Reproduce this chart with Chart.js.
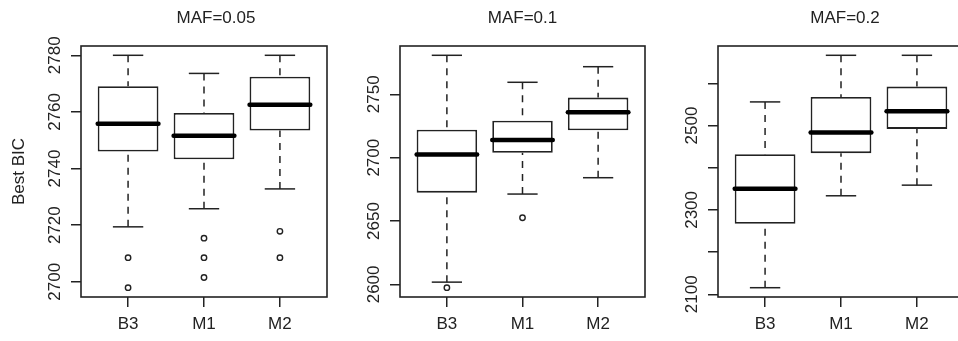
<!DOCTYPE html>
<html>
<head>
<meta charset="utf-8">
<script src="https://cdn.jsdelivr.net/npm/chart.js@4.4.0/dist/chart.umd.min.js"></script>
<style>
    body { margin: 0; width: 958px; height: 341px; overflow: hidden; background: #fff; position: relative; }
    canvas { position: absolute; top: 0; }
</style>
</head>
<body>
<canvas id="c05" width="432" height="341" style="left:0px"></canvas>
<canvas id="c1" width="385" height="341" style="left:330px"></canvas>
<canvas id="c2" width="390" height="341" style="left:650px"></canvas>
<script>
// Dados
const categories = ['B3', 'M1', 'M2'];
const panelTitles = ['MAF=0.05', 'MAF=0.1', 'MAF=0.2'];
const yTitle = 'Best BIC';

// MAF=0.05
const whiskerLow05 = [2719.4, 2725.8, 2732.8];
const q1_05 = [2746.0, 2743.3, 2753.4];
const median05 = [2755.8, 2751.6, 2762.5];
const q3_05 = [2769.1, 2759.6, 2772.4];
const whiskerHigh05 = [2780.0, 2773.6, 2780.0];
const outliers05 = [[2708.5, 2697.9], [2715.4, 2708.5, 2701.5], [2717.8, 2708.5]];
const ticks05 = [2700, 2720, 2740, 2760, 2780];
const tickLabels05 = ['2700', '2720', '2740', '2760', '2780'];

// MAF=0.1
const whiskerLow1 = [2601.8, 2671.3, 2684.2];
const q1_1 = [2672.4, 2703.9, 2721.6];
const median1 = [2702.6, 2713.9, 2735.8];
const q3_1 = [2722.1, 2729.2, 2747.4];
const whiskerHigh1 = [2780.8, 2759.5, 2771.8];
const outliers1 = [[2597.4], [2652.6], []];
const ticks1 = [2600, 2650, 2700, 2750];
const tickLabels1 = ['2600', '2650', '2700', '2750'];

// MAF=0.2
const whiskerLow2 = [2115.6, 2333.5, 2358.7];
const q1_2 = [2267.0, 2434.5, 2492.0];
const median2 = [2350.0, 2483.4, 2534.0];
const q3_2 = [2432.0, 2567.9, 2592.3];
const whiskerHigh2 = [2556.0, 2666.5, 2666.5];
const outliers2 = [[], [], []];
const ticks2 = [2100, 2200, 2300, 2400, 2500, 2600];
const tickLabels2 = ['2100', '', '2300', '', '2500', ''];

const ink = '#222';
Chart.defaults.font.family = '"Liberation Sans", Arial, Helvetica, sans-serif';
Chart.defaults.font.size = 17;
Chart.defaults.color = ink;

// Painéis: dados + posição do canvas
const panels = [
    { canvas: 'c05', title: panelTitles[0], yTitle: true, yWidth: 81, padRight: 105,
      low: whiskerLow05, q1: q1_05, med: median05, q3: q3_05, high: whiskerHigh05,
      out: outliers05, ticks: ticks05, labels: tickLabels05 },
    { canvas: 'c1', title: panelTitles[1], yTitle: false, yWidth: 70, padRight: 70,
      low: whiskerLow1, q1: q1_1, med: median1, q3: q3_1, high: whiskerHigh1,
      out: outliers1, ticks: ticks1, labels: tickLabels1 },
    { canvas: 'c2', title: panelTitles[2], yTitle: false, yWidth: 68, padRight: 76,
      low: whiskerLow2, q1: q1_2, med: median2, q3: q3_2, high: whiskerHigh2,
      out: outliers2, ticks: ticks2, labels: tickLabels2 }
];

// Bigodes, medianas e moldura (estilo boxplot do R)
function boxPlugin(p) {
    return {
        id: 'boxExtras',
        afterDatasetsDraw(chart) {
            const { ctx, chartArea: a, scales: { x, y } } = chart;
            const seg = (x1, y1, x2, y2) => { ctx.beginPath(); ctx.moveTo(x1, y1); ctx.lineTo(x2, y2); ctx.stroke(); };
            ctx.save();
            ctx.strokeStyle = ink;
            ctx.lineCap = 'butt';
            p.med.forEach((m, i) => {
                const c = i + 1;
                const cx = x.getPixelForValue(c);
                // bigodes tracejados, do extremo até a caixa
                ctx.lineWidth = 1.5;
                ctx.setLineDash([7, 6]);
                seg(cx, y.getPixelForValue(p.low[i]), cx, y.getPixelForValue(p.q1[i]));
                seg(cx, y.getPixelForValue(p.high[i]), cx, y.getPixelForValue(p.q3[i]));
                ctx.setLineDash([]);
                // hastes
                const l = x.getPixelForValue(c - 0.2), r = x.getPixelForValue(c + 0.2);
                seg(l, y.getPixelForValue(p.low[i]), r, y.getPixelForValue(p.low[i]));
                seg(l, y.getPixelForValue(p.high[i]), r, y.getPixelForValue(p.high[i]));
                // mediana
                ctx.lineWidth = 4.5;
                ctx.strokeStyle = '#000';
                ctx.lineCap = 'round';
                seg(x.getPixelForValue(c - 0.4), y.getPixelForValue(m), x.getPixelForValue(c + 0.4), y.getPixelForValue(m));
                ctx.lineCap = 'butt';
                ctx.strokeStyle = ink;
            });
            ctx.lineWidth = 1.6;
            ctx.strokeRect(a.left, a.top, a.right - a.left, a.bottom - a.top);
            ctx.restore();
        }
    };
}

function drawPanel(p) {
    // limites como no R: faixa dos dados +/- 4%
    const all = p.low.concat(p.high, ...p.out);
    const lo = Math.min(...all), hi = Math.max(...all);
    const ext = (hi - lo) * 0.04;
    const n = categories.length;

    const outlierPoints = [];
    p.out.forEach((vals, i) => vals.forEach(v => outlierPoints.push({ x: i + 1, y: v })));

    new Chart(document.getElementById(p.canvas), {
        type: 'bar',
        data: {
            datasets: [{
                data: categories.map((c, i) => ({ x: i + 1, y: [p.q1[i], p.q3[i]] })),
                backgroundColor: '#fff',
                borderColor: ink,
                borderWidth: 1.8,
                borderSkipped: false,
                categoryPercentage: 1,
                barPercentage: 0.8
            }, {
                type: 'scatter',
                data: outlierPoints,
                pointRadius: 2.7,
                pointBorderWidth: 1.4,
                pointBackgroundColor: '#fff',
                pointBorderColor: ink
            }]
        },
        options: {
            responsive: false,
            animation: false,
            events: [],
            layout: { padding: 0 },
            plugins: {
                legend: { display: false },
                tooltip: { enabled: false },
                title: {
                    display: true,
                    text: p.title,
                    color: ink,
                    font: { size: 17, weight: 'normal' },
                    padding: { top: 8.6, bottom: 17 }
                }
            },
            scales: {
                x: {
                    type: 'linear',
                    min: 0.5 - 0.04 * n,
                    max: n + 0.5 + 0.04 * n,
                    offset: false,
                    afterBuildTicks: s => { s.ticks = categories.map((c, i) => ({ value: i + 1 })); },
                    afterFit: s => { s.height = 44; },
                    ticks: { autoSkip: false, maxRotation: 0, padding: 7.3, callback: v => categories[v - 1] },
                    grid: { offset: false, drawOnChartArea: false, tickLength: 10, color: ink, lineWidth: 1.5 },
                    border: { display: false }
                },
                y: {
                    min: lo - ext,
                    max: hi + ext,
                    afterBuildTicks: s => { s.ticks = p.ticks.map(v => ({ value: v })); },
                    afterFit: s => { s.width = p.yWidth; },
                    ticks: {
                        autoSkip: false, minRotation: 90, maxRotation: 90, crossAlign: 'center', padding: -3,
                        callback: v => p.labels[p.ticks.indexOf(v)]
                    },
                    grid: { drawOnChartArea: false, tickLength: 10, color: ink, lineWidth: 1.5 },
                    border: { display: false },
                    title: { display: p.yTitle, text: yTitle, color: ink, font: { size: 17 }, padding: { top: 8.8, bottom: 0 } }
                },
                pad: {
                    type: 'linear',
                    position: 'right',
                    display: true,
                    ticks: { display: false },
                    grid: { display: false },
                    border: { display: false },
                    afterFit: s => { s.width = p.padRight; }
                }
            }
        },
        plugins: [boxPlugin(p)]
    });
}

panels.forEach(drawPanel);
</script>
</body>
</html>
